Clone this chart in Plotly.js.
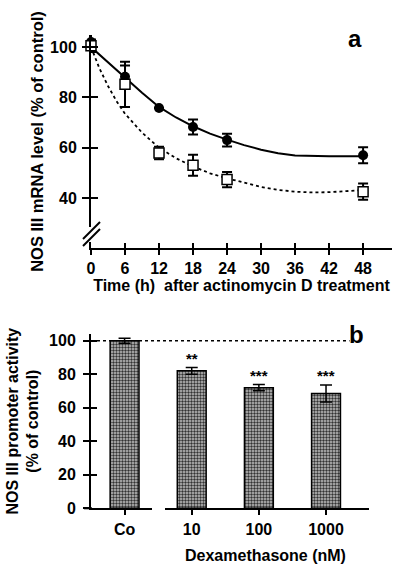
<!DOCTYPE html>
<html>
<head>
<meta charset="utf-8">
<script src="https://cdn.plot.ly/plotly-3.0.1.min.js"></script>
<style>html,body{margin:0;padding:0;background:#fff}#chart{width:400px;height:574px}</style>
</head>
<body>
<div id="chart"></div>
<script>
// ---------- Panel a data ----------
const timeTicks = [0, 6, 12, 18, 24, 30, 36, 42, 48];
const timePoints = [0, 6, 12, 18, 24, 48];
const filledMean = [102, 88.2, 75.8, 68.2, 63, 57];
const filledErr = [4, 4.5, 0, 3, 2.5, 3.2];
const openMean = [100.5, 85.2, 57.9, 53, 47.3, 42.5];
const openErr = [2.5, 9, 2.5, 4.2, 3, 3.2];
const fitTime = [0, 1.5, 3, 4.5, 6, 9, 12, 15, 18, 21, 24, 27, 30, 33, 36, 39, 42, 45, 48];
const fitSolid = [100, 97, 94, 91, 88, 81.8, 76.2, 72, 68.5, 65.6, 63.2, 61, 59.2, 57.8, 56.9, 56.6, 56.6, 56.6, 56.6];
const fitDotted = [100, 91.5, 84.5, 78.5, 73.5, 66, 60, 55.8, 52.5, 49.8, 47.8, 46, 44.4, 43.2, 42.5, 42.2, 42.3, 42.7, 43.2];
const yTicksA = [40, 60, 80, 100];

// ---------- Panel b data ----------
const doseLabels = ['Co', '10', '100', '1000'];
const promoterMean = [100, 82, 72, 68.5];
const promoterErr = [1.5, 2, 1.8, 5];
const signif = ['', '**', '***', '***'];
const yTicksB = [0, 20, 40, 60, 80, 100];
const controlLevel = 100;

const FONT = 'Liberation Sans, Arial, Helvetica, sans-serif';
const f16 = {family: FONT, size: 16, color: '#000', weight: 700};

// pixel -> paper helpers (page is 400x574)
const px = v => v / 400;
const py = v => 1 - v / 574;

const traces = [
  {x: fitTime, y: fitSolid, xaxis: 'x', yaxis: 'y', mode: 'lines', line: {color: '#000', width: 2}, hoverinfo: 'skip', cliponaxis: false},
  {x: fitTime, y: fitDotted, xaxis: 'x', yaxis: 'y', mode: 'lines', line: {color: '#000', width: 1.8, dash: 'dot'}, hoverinfo: 'skip', cliponaxis: false},
  {x: timePoints, y: filledMean, xaxis: 'x', yaxis: 'y', mode: 'markers', cliponaxis: false,
   marker: {symbol: 'circle', size: 10, color: '#000'},
   error_y: {type: 'data', array: filledErr, color: '#000', thickness: 2, width: 5}},
  {x: timePoints, y: openMean, xaxis: 'x', yaxis: 'y', mode: 'markers', cliponaxis: false,
   marker: {symbol: 'square', size: 10, color: '#fff', line: {color: '#000', width: 1.5}},
   error_y: {type: 'data', array: openErr, color: '#000', thickness: 2, width: 5}},
  {type: 'bar', x: doseLabels, y: promoterMean, xaxis: 'x2', yaxis: 'y2', width: 0.43,
   marker: {color: '#b0b0b0', line: {color: '#000', width: 1.5},
            pattern: {shape: '.', fgcolor: '#333', bgcolor: '#c2c2c2', size: 3, solidity: 0.5}},
   error_y: {type: 'data', array: promoterErr, color: '#000', thickness: 1.5, width: 6}},
  // carriers for the overlay (inner-tick) axes
  {x: [], y: [], xaxis: 'x3', yaxis: 'y3', mode: 'markers', hoverinfo: 'skip'},
  {x: [], y: [], xaxis: 'x4', yaxis: 'y4', mode: 'markers', hoverinfo: 'skip'}
];

const annotations = [
  {text: 'a', xref: 'paper', yref: 'paper', x: px(355), y: py(38), xanchor: 'center', yanchor: 'middle', showarrow: false,
   font: {family: FONT, size: 24, color: '#000', weight: 700}},
  {text: 'b', xref: 'paper', yref: 'paper', x: px(356), y: py(334), xanchor: 'center', yanchor: 'middle', showarrow: false,
   font: {family: FONT, size: 24, color: '#000', weight: 700}},
  {text: 'Dexamethasone (nM)', xref: 'paper', yref: 'paper', x: px(265), y: py(555), xanchor: 'center', yanchor: 'middle',
   showarrow: false, font: f16}
];
doseLabels.forEach((d, i) => {
  if (signif[i]) annotations.push({
    text: signif[i], xref: 'x2', yref: 'y2', x: i, y: promoterMean[i] + promoterErr[i],
    xanchor: 'center', yanchor: 'bottom', yshift: -1, showarrow: false,
    font: {family: FONT, size: 15, color: '#000', weight: 700}
  });
});

const shapes = [
  // control level reference line (panel b)
  {type: 'line', xref: 'x2 domain', yref: 'y2', x0: 0, x1: 0.93, y0: controlLevel, y1: controlLevel,
   line: {color: '#000', width: 1.5, dash: 'dot'}, layer: 'below'},
  // axis break on panel a y-axis
  {type: 'rect', xref: 'paper', yref: 'paper', x0: px(87), x1: px(95), y0: py(242), y1: py(227),
   fillcolor: '#fff', line: {width: 0}, layer: 'above'},
  {type: 'line', xref: 'paper', yref: 'paper', x0: px(83), y0: py(239), x1: px(100), y1: py(222),
   line: {color: '#000', width: 2}, layer: 'above'},
  {type: 'line', xref: 'paper', yref: 'paper', x0: px(83), y0: py(246), x1: px(100), y1: py(229),
   line: {color: '#000', width: 2}, layer: 'above'},
  // gap in panel b x-axis
  {type: 'rect', xref: 'paper', yref: 'paper', x0: px(152), x1: px(165), y0: py(512), y1: py(505),
   fillcolor: '#fff', line: {width: 0}, layer: 'above'},
  // small leftward extension of panel b x-axis
  {type: 'line', xref: 'paper', yref: 'paper', x0: px(84), x1: px(92), y0: py(508.3), y1: py(508.3),
   line: {color: '#000', width: 2}, layer: 'above'}
];

const baseAx = {showgrid: false, zeroline: false, showline: true, linecolor: '#000', linewidth: 2,
  ticks: 'outside', tickcolor: '#000', tickwidth: 2, tickfont: f16, fixedrange: true};
const innerAx = {showgrid: false, zeroline: false, showline: false, ticks: 'inside', tickcolor: '#000',
  tickwidth: 2, showticklabels: false, fixedrange: true};

const xRangeA = [0, 53.1], yRangeA = [20.1, 104.8];
const xRangeB = [-0.5, 3.64], yRangeB = [0, 104];

const layout = {
  width: 400, height: 574, margin: {l: 0, r: 0, t: 0, b: 0},
  paper_bgcolor: '#fff', plot_bgcolor: 'rgba(0,0,0,0)', showlegend: false,
  font: f16,
  xaxis: Object.assign({}, baseAx, {domain: [px(91), px(392)], range: xRangeA, anchor: 'y',
    tickmode: 'array', tickvals: timeTicks, ticklen: 5, ticklabelstandoff: 0,
    title: {text: 'Time (h)\u00a0\u00a0after actinomycin D treatment', font: f16, standoff: 4}}),
  yaxis: Object.assign({}, baseAx, {domain: [py(248), py(35)], range: yRangeA, anchor: 'x',
    tickmode: 'array', tickvals: yTicksA, ticklen: 7, ticklabelstandoff: 2,
    title: {text: 'NOS III mRNA level (% of control)', font: Object.assign({}, f16, {size: 16.5}), standoff: 2}}),
  xaxis3: Object.assign({}, innerAx, {overlaying: 'x', anchor: 'y', range: xRangeA,
    tickmode: 'array', tickvals: timeTicks, ticklen: 5}),
  yaxis3: Object.assign({}, innerAx, {overlaying: 'y', anchor: 'x', range: yRangeA,
    tickmode: 'array', tickvals: yTicksA, ticklen: 7}),
  xaxis2: Object.assign({}, baseAx, {domain: [px(91), px(369)], range: xRangeB, anchor: 'y2',
    type: 'category', ticklen: 5, ticklabelstandoff: 0}),
  yaxis2: Object.assign({}, baseAx, {domain: [py(508.3), py(334)], range: yRangeB, anchor: 'x2',
    tickmode: 'array', tickvals: yTicksB, ticklen: 6, ticklabelstandoff: 4,
    title: {text: 'NOS III promoter activity<br>(% of control)', font: f16, standoff: 6}}),
  xaxis4: Object.assign({}, innerAx, {overlaying: 'x2', anchor: 'y2', range: xRangeB, type: 'category',
    tickmode: 'array', tickvals: doseLabels, ticklen: 5}),
  yaxis4: Object.assign({}, innerAx, {overlaying: 'y2', anchor: 'x2', range: yRangeB,
    tickmode: 'array', tickvals: yTicksB, ticklen: 6}),
  annotations: annotations,
  shapes: shapes
};

Plotly.newPlot('chart', traces, layout, {staticPlot: true, displayModeBar: false});
</script>
</body>
</html>
